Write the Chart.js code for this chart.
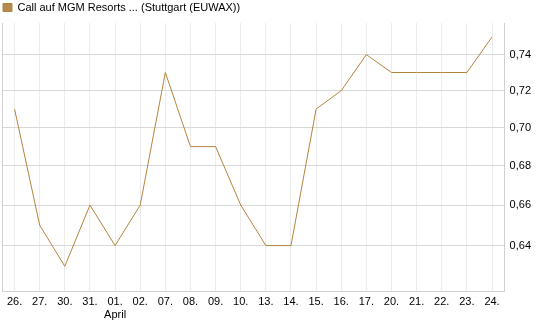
<!DOCTYPE html>
<html>
<head>
<meta charset="utf-8">
<script src="https://cdn.jsdelivr.net/npm/chart.js@4.4.0/dist/chart.umd.min.js"></script>
<style>
  html, body { margin: 0; padding: 0; background: #fff; }
  canvas { display: block; }
</style>
</head>
<body>
<canvas id="chart" width="545" height="327"></canvas>
<script>
// Kursdaten (Schlusskurse)
const dates = ["26.", "27.", "30.", "31.", ["01.", "April"], "02.", "07.", "08.", "09.", "10.",
  "13.", "14.", "15.", "16.", "17.", "20.", "21.", "22.", "23.", "24."];
const prices = [0.71, 0.65, 0.63, 0.66, 0.64, 0.66, 0.73, 0.69, 0.69, 0.66,
  0.64, 0.64, 0.71, 0.72, 0.74, 0.73, 0.73, 0.73, 0.73, 0.75];
const yTicks = [0.64, 0.66, 0.68, 0.70, 0.72, 0.74];
const seriesName = "Call auf MGM Resorts ... (Stuttgart (EUWAX))";

const lineColor = "#b5843c";

// linker Rand des Plotbereichs
const leftBorder = {
  id: 'leftBorder',
  afterDraw(chart) {
    const { ctx, chartArea } = chart;
    ctx.save();
    ctx.strokeStyle = '#d0d0d0';
    ctx.lineWidth = 1;
    ctx.beginPath();
    ctx.moveTo(Math.round(chartArea.left) + 0.5, chartArea.top);
    ctx.lineTo(Math.round(chartArea.left) + 0.5, chartArea.bottom);
    ctx.stroke();
    ctx.restore();
  }
};

Chart.defaults.font.family = '"Liberation Sans", Arial, sans-serif';
Chart.defaults.font.size = 11;
Chart.defaults.color = '#000';

new Chart(document.getElementById('chart'), {
  type: 'line',
  data: {
    labels: dates,
    datasets: [{
      label: seriesName,
      data: prices,
      borderColor: lineColor,
      backgroundColor: '#b58a50',
      borderWidth: 1,
      pointRadius: 0,
      tension: 0,
      fill: false,
    }]
  },
  options: {
    responsive: false,
    animation: false,
    layout: {
      padding: { left: 2, right: 9, top: 1, bottom: 1 }
    },
    scales: {
      x: {
        offset: true,
        grid: {
          offset: false,
          color: '#ececec',
          drawTicks: false,
        },
        border: { color: '#d0d0d0' },
        ticks: {
          autoSkip: false,
          maxRotation: 0,
          padding: 4,
          font: { size: 11 },
        },
      },
      y: {
        type: 'logarithmic',
        position: 'right',
        min: 0.618,
        max: 0.758,
        afterBuildTicks: (scale) => {
          scale.ticks = yTicks.map(v => ({ value: v }));
        },
        grid: {
          color: '#d8d8d8',
          drawTicks: false,
        },
        border: { color: '#d0d0d0' },
        ticks: {
          padding: 5,
          font: { size: 11 },
          callback: (v) => Number(v).toFixed(2).replace('.', ','),
        },
      },
    },
    plugins: {
      legend: {
        display: true,
        align: 'start',
        labels: {
          boxWidth: 9,
          boxHeight: 8,
          padding: 1,
          font: { size: 11 },
          color: '#000',
        },
      },
      tooltip: { enabled: false },
    },
  },
  plugins: [leftBorder],
});
</script>
</body>
</html>
